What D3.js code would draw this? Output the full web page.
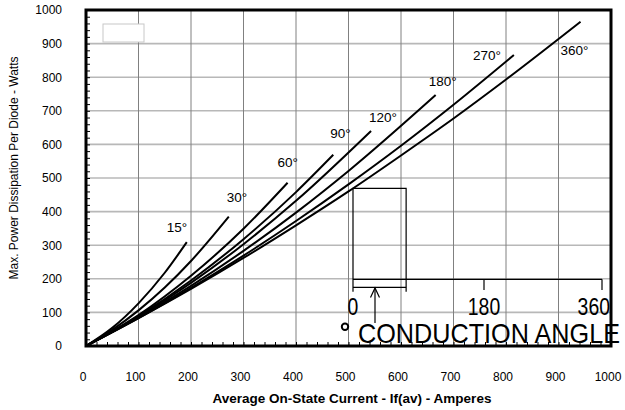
<!DOCTYPE html>
<html>
<head>
<meta charset="utf-8">
<script src="https://cdn.jsdelivr.net/npm/d3@7"></script>
<style>
  body { margin: 0; background: #fff; }
  text { font-family: "Liberation Sans", Arial, sans-serif; }
</style>
</head>
<body>
<script>
// DATA (current in A, power in W)
var angles = ["15°", "30°", "60°", "90°", "120°", "180°", "270°", "360°"];

var current15  = [0, 50, 100, 150, 192];
var power15    = [0, 54, 127, 218, 309];
var current30  = [0, 50, 100, 150, 200, 272];
var power30    = [0, 48, 106, 174, 253, 385];
var current60  = [0, 100, 200, 300, 384];
var power60    = [0, 92, 209, 349, 486];
var current90  = [0, 100, 200, 300, 400, 471];
var power90    = [0, 89, 195, 318, 458, 569];
var current120 = [0, 100, 200, 300, 400, 543];
var power120   = [0, 87, 188, 303, 432, 640];
var current180 = [0, 100, 200, 300, 400, 500, 666];
var power180   = [0, 85, 179, 283, 397, 521, 747];
var current270 = [0, 100, 200, 300, 400, 500, 600, 700, 815];
var power270   = [0, 83, 173, 269, 372, 481, 596, 718, 866];
var current360 = [0, 100, 200, 300, 400, 500, 600, 700, 800, 942];
var power360   = [0, 83, 170, 262, 359, 460, 567, 677, 793, 965];

var xTicks = [0, 100, 200, 300, 400, 500, 600, 700, 800, 900, 1000];
var yTicks = [0, 100, 200, 300, 400, 500, 600, 700, 800, 900, 1000];
var insetTicks = [0, 180, 360];

var currents = [current15, current30, current60, current90, current120, current180, current270, current360];
var powers   = [power15, power30, power60, power90, power120, power180, power270, power360];

// label nudges from the end of each curve (px)
var labelNudge = [[-20, -10], [-2, -15], [-10, -16], [-3, -17], [-2, -9], [-7, -9], [-41, 5], [-20, 33]];

// SETUP
var width = 625, height = 410;
var svg = d3.select("body").append("svg")
    .attr("width", width)
    .attr("height", height);

var x = d3.scaleLinear().domain([0, 1000]).range([86, 611]),
    y = d3.scaleLinear().domain([0, 1000]).range([346, 10]);

var fmt = d3.format("d");

// gridlines
svg.append("g")
  .selectAll("line")
  .data(yTicks.slice(1, -1))
  .join("line")
    .attr("x1", x(0)).attr("x2", x(1000))
    .attr("y1", function(d) { return y(d); })
    .attr("y2", function(d) { return y(d); })
    .attr("stroke", "#b8b8b8")
    .attr("stroke-width", 1.6);

svg.append("g")
  .selectAll("line")
  .data(xTicks.slice(1, -1))
  .join("line")
    .attr("y1", y(0)).attr("y2", y(1000))
    .attr("x1", function(d) { return x(d); })
    .attr("x2", function(d) { return x(d); })
    .attr("stroke", "#808080")
    .attr("stroke-width", 1);

// minor ticks inside the frame
svg.append("g")
    .attr("transform", "translate(" + x(0) + ",0)")
    .call(d3.axisLeft(y).ticks(50).tickSize(-4).tickFormat(""))
    .call(function(g) { g.select(".domain").remove(); })
    .selectAll("line").attr("stroke", "#000");

svg.append("g")
    .attr("transform", "translate(0," + y(0) + ")")
    .call(d3.axisBottom(x).ticks(50).tickSize(-4).tickFormat(""))
    .call(function(g) { g.select(".domain").remove(); })
    .selectAll("line").attr("stroke", "#000");

// tick labels
svg.append("g")
    .attr("transform", "translate(" + x(0) + ",0)")
    .call(d3.axisLeft(y).tickValues(yTicks).tickFormat(fmt).tickSize(0).tickPadding(24))
    .call(function(g) { g.select(".domain").remove(); })
    .selectAll("text")
    .attr("font-family", "Liberation Sans, Arial, sans-serif")
    .attr("font-size", 12)
    .attr("fill", "#000");

svg.append("g")
    .attr("transform", "translate(-3.5," + y(0) + ")")
    .call(d3.axisBottom(x).tickValues(xTicks).tickFormat(fmt).tickSize(0).tickPadding(26.5))
    .call(function(g) { g.select(".domain").remove(); })
    .selectAll("text")
    .attr("font-family", "Liberation Sans, Arial, sans-serif")
    .attr("font-size", 12)
    .attr("fill", "#000");

// axis titles
svg.append("text")
    .attr("x", 352).attr("y", 403)
    .attr("text-anchor", "middle")
    .attr("font-size", 13.5)
    .attr("font-weight", "bold")
    .text("Average On-State Current - If(av) - Amperes");

svg.append("text")
    .attr("transform", "translate(18,168) rotate(-90)")
    .attr("text-anchor", "middle")
    .attr("font-size", 12)
    .text("Max. Power Dissipation Per Diode - Watts");

// empty legend box
svg.append("rect")
    .attr("x", 103).attr("y", 24)
    .attr("width", 41).attr("height", 18)
    .attr("fill", "#fff")
    .attr("stroke", "#c8c8c8");

// curves
var line = d3.line()
    .x(function(d) { return x(d[0]); })
    .y(function(d) { return y(d[1]); })
    .curve(d3.curveMonotoneX);

var series = angles.map(function(a, i) {
  return { name: a, pts: d3.zip(currents[i], powers[i]), nudge: labelNudge[i] };
});

svg.append("g")
  .selectAll("path")
  .data(series)
  .join("path")
    .attr("fill", "none")
    .attr("stroke", "#000")
    .attr("stroke-width", 2)
    .attr("d", function(d) { return line(d.pts); });

svg.append("g")
  .selectAll("text")
  .data(series)
  .join("text")
    .attr("x", function(d) { return x(d.pts[d.pts.length - 1][0]) + d.nudge[0]; })
    .attr("y", function(d) { return y(d.pts[d.pts.length - 1][1]) + d.nudge[1]; })
    .attr("font-size", 13.5)
    .text(function(d) { return d.name; });

// conduction angle inset
var a = d3.scaleLinear().domain([0, 180, 360]).range([353, 484, 602]);
var pulseAngle = 73;
var inset = svg.append("g")
    .attr("stroke", "#000")
    .attr("stroke-width", 1.2)
    .attr("fill", "none");

inset.append("path")
    .attr("d", "M" + a(0) + ",291.7V188.3H" + a(pulseAngle) + "V291.7");
inset.append("line")
    .attr("x1", a(0)).attr("x2", a(360))
    .attr("y1", 279.3).attr("y2", 279.3);
inset.selectAll(".tk")
  .data(insetTicks.slice(1))
  .join("line")
    .attr("x1", function(d) { return a(d); })
    .attr("x2", function(d) { return a(d); })
    .attr("y1", 279.3).attr("y2", 290);
inset.append("line")
    .attr("x1", a(0)).attr("x2", a(pulseAngle))
    .attr("y1", 287.3).attr("y2", 287.3);
inset.append("line")
    .attr("x1", 375).attr("x2", 375)
    .attr("y1", 288).attr("y2", 323);
inset.append("path")
    .attr("d", "M370.5,297.5L375,288L379.5,297.5");

var condFont = "Liberation Sans Narrow, DejaVu Sans Condensed, Liberation Sans, sans-serif";
svg.append("g")
  .selectAll("text")
  .data(insetTicks)
  .join("text")
    .attr("x", function(d, i) { return i === 2 ? a(d) + 8 : a(d); })
    .attr("y", 315)
    .attr("text-anchor", function(d, i) { return i === 2 ? "end" : "middle"; })
    .attr("font-family", condFont)
    .attr("font-size", 24)
    .attr("textLength", function(d) { return String(d).length * 10.8; })
    .attr("lengthAdjust", "spacingAndGlyphs")
    .text(function(d) { return d; });

svg.append("circle")
    .attr("cx", 345).attr("cy", 326.7).attr("r", 3.2)
    .attr("fill", "none")
    .attr("stroke", "#000")
    .attr("stroke-width", 2);

svg.append("text")
    .attr("x", 358).attr("y", 342.7)
    .attr("font-family", condFont)
    .attr("font-size", 28)
    .attr("textLength", 262)
    .attr("lengthAdjust", "spacingAndGlyphs")
    .text("CONDUCTION ANGLE");

// frame
svg.append("rect")
    .attr("x", x(0)).attr("y", y(1000))
    .attr("width", x(1000) - x(0))
    .attr("height", y(0) - y(1000))
    .attr("fill", "none")
    .attr("stroke", "#000")
    .attr("stroke-width", 3);
</script>
</body>
</html>
